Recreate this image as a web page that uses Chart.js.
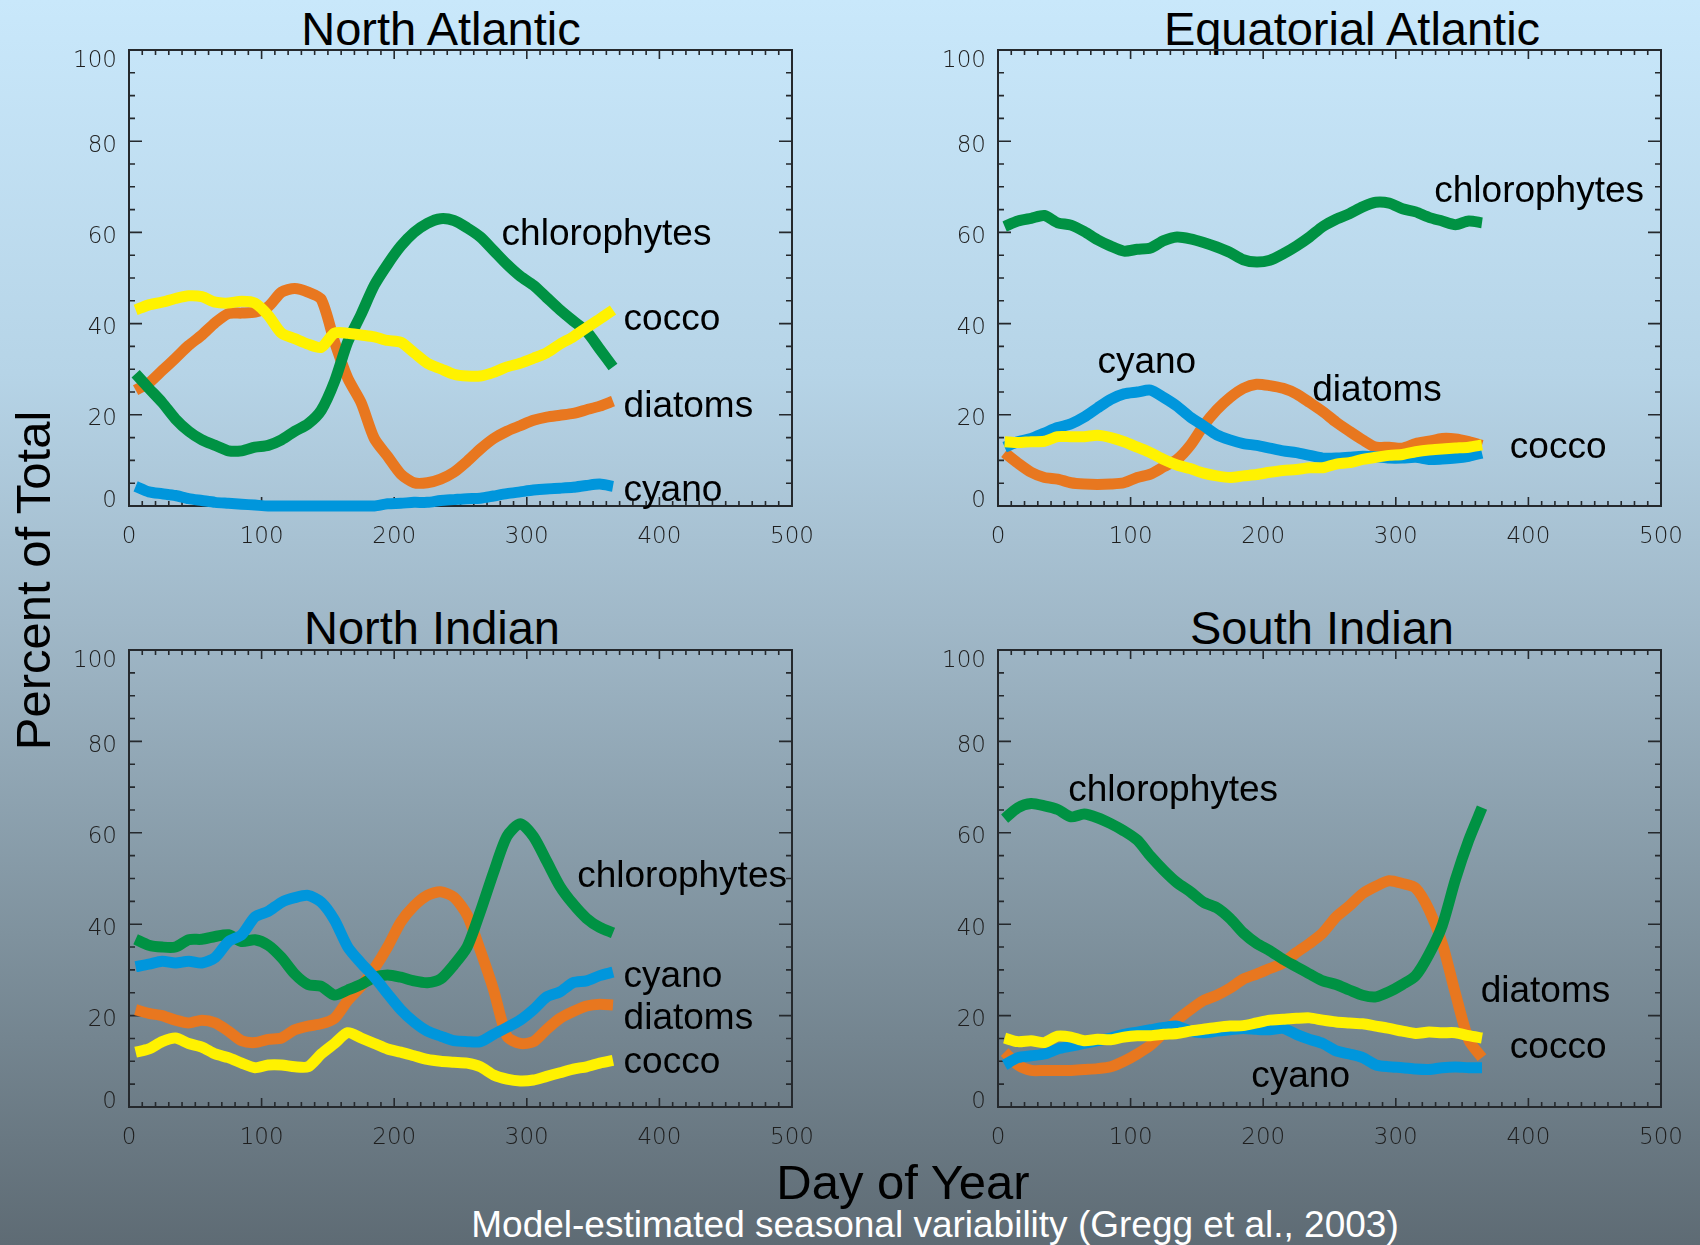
<!DOCTYPE html>
<html>
<head>
<meta charset="utf-8">
<title>Model-estimated seasonal variability</title>
<script src="https://cdn.jsdelivr.net/npm/chart.js@4.4.1/dist/chart.umd.min.js"></script>
<style>
  html, body { margin: 0; padding: 0; }
  body {
    width: 1700px; height: 1245px; position: relative; overflow: hidden;
    background: linear-gradient(to bottom, #c9e8fb 0%, #b6d4e7 30%, #a0b8c8 50%, #7f929e 75%, #5e6b74 100%);
    font-family: "Liberation Sans", Arial, sans-serif;
  }
  canvas { position: absolute; }
  .title { position: absolute; width: 800px; text-align: center; font-size: 47px; line-height: 47px; color: #000; white-space: nowrap; }
  #yTitle { position: absolute; left: -267px; top: 556px; width: 600px; height: 49px; text-align: center; font-size: 49px; line-height: 49px; transform: rotate(-90deg); }
  #xTitle { position: absolute; left: 503px; top: 1158px; width: 800px; text-align: center; font-size: 49px; line-height: 49px; }
  #caption { position: absolute; left: 335px; top: 1206px; width: 1200px; text-align: center; font-size: 37px; line-height: 37px; color: #fff; white-space: nowrap; }
</style>
</head>
<body>
<div class="title" style="left:41px; top:5px">North Atlantic</div>
<div class="title" style="left:952px; top:5px">Equatorial Atlantic</div>
<div class="title" style="left:32px; top:604px">North Indian</div>
<div class="title" style="left:922px; top:604px">South Indian</div>
<div id="yTitle">Percent of Total</div>
<div id="xTitle">Day of Year</div>
<div id="caption">Model-estimated seasonal variability (Gregg et al., 2003)</div>

<canvas id="naChart" width="783" height="526" style="left:49px; top:30px"></canvas>
<canvas id="eaChart" width="783" height="526" style="left:918px; top:30px"></canvas>
<canvas id="niChart" width="783" height="527" style="left:49px; top:630px"></canvas>
<canvas id="siChart" width="783" height="527" style="left:918px; top:630px"></canvas>

<script>
// Day of year for each sample
const days = [5, 15, 25, 35, 45, 55, 65, 75, 85, 95, 105, 115, 125, 135, 145, 155, 165, 175, 185,
  195, 205, 215, 225, 235, 245, 255, 265, 275, 285, 295, 305, 315, 325, 335, 345, 355, 365];

const xTicks = [0, 100, 200, 300, 400, 500];
const yTicks = [0, 20, 40, 60, 80, 100];

// North Atlantic
const naChloro = [29, 25.8, 22.7, 19.1, 16.4, 14.5, 13.3, 12.1, 12.1, 12.9, 13.3, 14.5, 16.4, 18, 21, 27.3, 36, 42, 48.4,
  53, 57, 60, 62, 63, 62.6, 61, 59, 56, 53, 50.4, 48.4, 45.7, 43, 40.6, 38.3, 34.4, 30.5];
const naDiatoms = [25.4, 27, 29.7, 32.4, 35.2, 37.5, 40.2, 42.2, 42.3, 42.5, 43.7, 46.9, 47.7, 46.9, 45.3, 36, 28, 22.7, 14.8,
  10.9, 7, 5.1, 5.1, 5.9, 7.4, 9.8, 12.5, 14.8, 16.4, 17.6, 18.8, 19.5, 19.9, 20.3, 21.1, 21.9, 23];
const naCocco = [43, 44.1, 44.7, 45.5, 46.1, 45.9, 44.7, 44.5, 44.9, 44.5, 41.8, 37.9, 36.7, 35.5, 34.8, 37.9, 37.9, 37.5, 37.1,
  36.3, 35.9, 33.6, 31.3, 30.1, 28.9, 28.5, 28.5, 29.3, 30.5, 31.3, 32.4, 33.6, 35.5, 37.1, 39.1, 41, 43];
const naCyano = [4.3, 3.1, 2.7, 2.3, 1.6, 1.2, 0.8, 0.6, 0.4, 0.2, 0, 0, 0, 0, 0, 0, 0, 0, 0,
  0.5, 0.6, 0.8, 0.8, 1.2, 1.4, 1.6, 1.7, 2.2, 2.7, 3.1, 3.5, 3.75, 3.9, 4.1, 4.5, 4.8, 4.3];

// Equatorial Atlantic
const eaChloro = [61.3, 62.5, 63.1, 63.7, 62.1, 61.6, 60.2, 58.4, 57, 55.9, 56.3, 56.6, 58.2, 59, 58.6, 57.8, 56.8, 55.6, 54,
  53.5, 53.9, 55.3, 57, 59, 61.3, 62.9, 64.1, 65.6, 66.6, 66.4, 65.2, 64.5, 63.3, 62.5, 61.7, 62.5, 62.1];
const eaDiatoms = [11.7, 9.4, 7.4, 6.25, 5.9, 5.1, 4.8, 4.7, 4.8, 5.1, 6.25, 7, 8.6, 10.2, 13.3, 17.6, 21.1, 23.8, 25.8,
  26.7, 26.4, 25.8, 24.6, 22.7, 20.7, 18.4, 16.4, 14.5, 12.9, 12.9, 12.7, 13.7, 14.2, 14.8, 14.7, 14.1, 13.3];
const eaCocco = [14.1, 13.9, 14.1, 14.2, 15.2, 15.2, 15.2, 15.5, 15, 14.1, 12.9, 11.7, 10.2, 9, 8.2, 7.2, 6.6, 6.25, 6.6,
  6.9, 7.4, 7.8, 8, 8.4, 8.4, 9.2, 9.5, 10.2, 10.7, 11.1, 11.3, 11.9, 12.3, 12.5, 12.7, 12.9, 13.4];
const eaCyano = [12.9, 14.1, 14.8, 16, 17.2, 18, 19.5, 21.5, 23.4, 24.6, 25, 25.4, 23.8, 21.9, 19.5, 17.6, 15.6, 14.5, 13.7,
  13.3, 12.7, 12.1, 11.7, 11.1, 10.5, 10.5, 10.7, 10.9, 10.8, 10.5, 10.5, 10.7, 10.2, 10.3, 10.5, 10.9, 11.6];

// North Indian
const niChloro = [36.7, 35.4, 35, 35, 36.6, 36.7, 37.3, 37.7, 36.2, 36.6, 35.4, 32.7, 29.1, 26.8, 26.4, 24.5, 25.6, 26.8, 28.4,
  28.9, 28.4, 27.6, 27.2, 28, 31.1, 35, 42.8, 51.4, 59.2, 62, 59.2, 53.8, 48.3, 44.4, 41.3, 39.3, 38.1];
const niDiatoms = [21.3, 20.5, 20, 19, 18.4, 19, 18.4, 16.6, 14.5, 14.1, 14.8, 15.1, 16.9, 17.7, 18.2, 19.4, 23.3, 26.4, 30.3,
  35, 40.5, 44, 46.3, 47.1, 45.9, 42, 34.2, 25.6, 15.5, 13.9, 14.3, 17, 19.4, 20.9, 22.1, 22.5, 22.3];
const niCocco = [12, 12.7, 14.3, 15.1, 13.9, 13.1, 11.6, 10.8, 9.6, 8.6, 9.2, 9.2, 8.8, 8.8, 11.6, 13.9, 16.25, 15.1, 13.9,
  12.7, 12, 11.2, 10.4, 10, 9.8, 9.6, 8.8, 7, 6.1, 5.7, 5.9, 6.7, 7.5, 8.3, 8.8, 9.6, 10.2];
const niCyano = [30.7, 31.25, 31.9, 31.5, 31.9, 31.5, 32.7, 36.2, 37.7, 41.6, 42.8, 44.8, 45.8, 46.3, 44.8, 40.9, 35, 31.5, 28.4,
  24.8, 21.3, 18.6, 16.6, 15.5, 14.5, 14.3, 14.3, 15.9, 17.4, 19, 21.3, 24.1, 25.2, 27.2, 27.6, 28.75, 29.5];

// South Indian
const siChloro = [63.1, 65.5, 66.4, 65.9, 65.1, 63.5, 64.1, 63.3, 62, 60.4, 58.4, 54.9, 51.8, 49.1, 47.1, 44.8, 43.6, 41.25, 38.1,
  35.8, 34.2, 32.3, 30.7, 29.1, 27.6, 26.8, 25.6, 24.45, 24.1, 25.2, 26.8, 28.75, 33.4, 39.7, 49.8, 58.4, 65.5];
const siDiatoms = [12, 9.2, 8, 8, 8, 8, 8.2, 8.4, 8.8, 10, 11.6, 13.5, 16.25, 19, 21.3, 23.3, 24.45, 26, 28,
  29.1, 30.3, 31.5, 33.8, 35.8, 38.1, 41.6, 44, 46.7, 48.3, 49.5, 48.9, 47.9, 43.2, 35.8, 24.8, 14.7, 10.8];
const siCocco = [15.1, 14.3, 14.5, 14.1, 15.5, 15.3, 14.5, 14.8, 14.7, 15.3, 15.6, 15.6, 15.9, 16.1, 16.6, 17, 17.4, 17.7, 17.8,
  18.4, 19, 19.2, 19.4, 19.5, 19, 18.6, 18.4, 18.2, 17.7, 17.2, 16.6, 16.1, 16.4, 16.25, 16.25, 15.6, 15.1];
const siCyano = [9.2, 10.8, 11.2, 11.6, 12.7, 13.3, 13.9, 14.5, 15.1, 15.9, 16.4, 16.9, 17.4, 17.7, 16.6, 16.25, 16.6, 16.9, 17.2,
  17, 16.9, 17.2, 15.9, 14.8, 13.9, 12.3, 11.6, 10.8, 9.2, 8.8, 8.6, 8.3, 8.2, 8.6, 8.75, 8.6, 8.6];

// Series name labels: [text, day, percent at text baseline]
const naLabels = [["chlorophytes", 281, 57.3], ["cocco", 373, 38.6], ["diatoms", 373, 19.5], ["cyano", 373, 1.2]];
const eaLabels = [["chlorophytes", 329, 66.7], ["cyano", 75, 29.2], ["diatoms", 237, 23.1], ["cocco", 386, 10.5]];
const niLabels = [["chlorophytes", 338, 48.1], ["cyano", 373, 26.3], ["diatoms", 373, 17], ["cocco", 373, 7.4]];
const siLabels = [["chlorophytes", 53, 67], ["diatoms", 364, 22.9], ["cocco", 386, 10.7], ["cyano", 191, 4.4]];

const colors = {
  cocco: "#fff200",
  cyano: "#0096dc",
  chloro: "#009243",
  diatoms: "#e8771f",
};

// Box, inward ticks and IDL-style y labels
const axisFrame = {
  id: "axisFrame",
  beforeDatasetsDraw(chart) {
    const { ctx, chartArea: a, scales } = chart;
    const x = scales.x;
    const y = scales.y;
    ctx.save();
    ctx.strokeStyle = "#25292d";
    ctx.lineWidth = 2;
    ctx.strokeRect(a.left, a.top, a.right - a.left, a.bottom - a.top);

    ctx.lineWidth = 1.6;
    ctx.beginPath();
    for (let v = 0; v <= 500; v += 10) {
      const px = x.getPixelForValue(v);
      const len = v % 100 === 0 ? 9 : 5;
      ctx.moveTo(px, a.bottom);
      ctx.lineTo(px, a.bottom - len);
      ctx.moveTo(px, a.top);
      ctx.lineTo(px, a.top + len);
    }
    for (let v = 0; v <= 100; v += 5) {
      const py = y.getPixelForValue(v);
      const len = v % 20 === 0 ? 13 : 6;
      ctx.moveTo(a.left, py);
      ctx.lineTo(a.left + len, py);
      ctx.moveTo(a.right, py);
      ctx.lineTo(a.right - len, py);
    }
    ctx.stroke();

    ctx.fillStyle = "#1e1e1e";
    ctx.font = "200 23px 'DejaVu Sans'";
    ctx.textAlign = "right";
    ctx.textBaseline = "alphabetic";
    y.ticks.forEach((t) => {
      const py = y.getPixelForValue(t.value);
      const cy = Math.min(Math.max(py + 2, a.top + 8.5), a.bottom - 7.5);
      ctx.fillText(String(t.value), a.left - 12, cy + 8.4);
    });
    ctx.restore();
  },
};

function makeLabelPlugin(items) {
  return {
    id: "seriesLabels",
    afterDatasetsDraw(chart) {
      const { ctx, scales } = chart;
      ctx.save();
      ctx.font = "37px 'Liberation Sans'";
      ctx.fillStyle = "#000";
      ctx.textAlign = "left";
      ctx.textBaseline = "alphabetic";
      items.forEach(([text, dx, dy]) => {
        ctx.fillText(text, scales.x.getPixelForValue(dx), scales.y.getPixelForValue(dy));
      });
      ctx.restore();
    },
  };
}

function series(values, color) {
  return {
    data: days.map((d, i) => ({ x: d, y: values[i] })),
    borderColor: color,
    borderWidth: 11,
    borderJoinStyle: "round",
    pointRadius: 0,
    tension: 0.25,
    clip: false,
  };
}

function makePanel(canvasId, cocco, cyano, chloro, diatoms, labels) {
  return new Chart(document.getElementById(canvasId), {
    type: "line",
    data: {
      // first dataset is drawn on top
      datasets: [
        series(cocco, colors.cocco),
        series(cyano, colors.cyano),
        series(chloro, colors.chloro),
        series(diatoms, colors.diatoms),
      ],
    },
    options: {
      responsive: false,
      animation: false,
      devicePixelRatio: 1,
      layout: { padding: { left: 0, top: 20, right: 40, bottom: 0 } },
      plugins: { legend: { display: false }, tooltip: { enabled: false } },
      scales: {
        x: {
          type: "linear",
          min: 0,
          max: 500,
          grid: { display: false, drawTicks: false },
          border: { display: false },
          afterBuildTicks: (s) => { s.ticks = xTicks.map((v) => ({ value: v })); },
          ticks: {
            padding: 17,
            maxRotation: 0,
            autoSkip: false,
            color: "#1e1e1e",
            font: { family: "DejaVu Sans", weight: 200, size: 23 },
          },
          afterFit: (s) => { s.height = 50; },
        },
        y: {
          type: "linear",
          min: 0,
          max: 100,
          grid: { display: false, drawTicks: false },
          border: { display: false },
          afterBuildTicks: (s) => { s.ticks = yTicks.map((v) => ({ value: v })); },
          ticks: { display: false },
          afterFit: (s) => { s.width = 80; },
        },
      },
    },
    plugins: [axisFrame, makeLabelPlugin(labels)],
  });
}

makePanel("naChart", naCocco, naCyano, naChloro, naDiatoms, naLabels);
makePanel("eaChart", eaCocco, eaCyano, eaChloro, eaDiatoms, eaLabels);
makePanel("niChart", niCocco, niCyano, niChloro, niDiatoms, niLabels);
makePanel("siChart", siCocco, siCyano, siChloro, siDiatoms, siLabels);
</script>
</body>
</html>
